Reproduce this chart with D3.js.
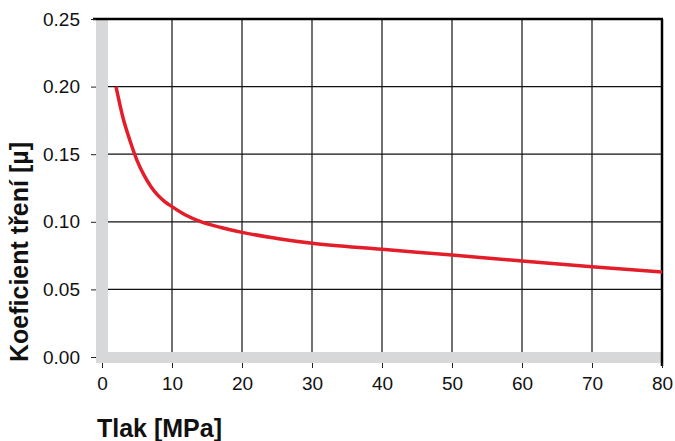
<!DOCTYPE html>
<html>
<head>
<meta charset="utf-8">
<script src="https://cdn.jsdelivr.net/npm/d3@7"></script>
<style>
  body { margin: 0; background: #fff; }
  svg { display: block; font-family: 'Liberation Sans', Arial, Helvetica, sans-serif; }
</style>
</head>
<body>
<div id="chart"></div>
<script>
// pressure [MPa] vs friction coefficient
const pressure = [2, 3, 4, 5, 6, 7, 8, 9, 10, 12, 14, 17, 20, 25, 30, 40, 50, 60, 70, 80]
const friction = [0.200, 0.177, 0.160, 0.1455, 0.1345, 0.126, 0.1195, 0.1148, 0.1112, 0.1048, 0.1003, 0.0958, 0.0922, 0.0877, 0.0841, 0.0797, 0.0754, 0.0710, 0.0668, 0.0628]
const xTicks = [0, 10, 20, 30, 40, 50, 60, 70, 80]
const yTicks = [0, 0.05, 0.10, 0.15, 0.20, 0.25]

const width = 675
const height = 441

const svg = d3
  .select('#chart')
  .append('svg')
  .attr('width', width)
  .attr('height', height)

const x = d3.scaleLinear().domain([0, 80]).range([102, 662])
const y = d3.scaleLinear().domain([0, 0.25]).range([357, 19])

const left = 96
const bottom = 363
const grey = '#d7d8da'

// grid
svg
  .append('g')
  .selectAll('line')
  .data(xTicks.slice(1, -1))
  .join('line')
  .attr('x1', d => x(d))
  .attr('x2', d => x(d))
  .attr('y1', y(0.25))
  .attr('y2', bottom)
  .attr('stroke', '#111')
  .attr('stroke-width', 1.2)

svg
  .append('g')
  .selectAll('line')
  .data(yTicks.slice(1, -1))
  .join('line')
  .attr('x1', left)
  .attr('x2', x(80))
  .attr('y1', d => y(d))
  .attr('y2', d => y(d))
  .attr('stroke', '#111')
  .attr('stroke-width', 1.2)

// grey bands on left and bottom
svg
  .append('rect')
  .attr('x', left)
  .attr('y', y(0.25))
  .attr('width', 12)
  .attr('height', bottom - y(0.25))
  .attr('fill', grey)

svg
  .append('rect')
  .attr('x', left)
  .attr('y', bottom - 11)
  .attr('width', x(80) - left)
  .attr('height', 11)
  .attr('fill', grey)

// top and right frame
svg
  .append('line')
  .attr('x1', 93)
  .attr('x2', x(80) + 1)
  .attr('y1', y(0.25))
  .attr('y2', y(0.25))
  .attr('stroke', '#000')
  .attr('stroke-width', 2.5)

svg
  .append('line')
  .attr('x1', x(80))
  .attr('x2', x(80))
  .attr('y1', y(0.25))
  .attr('y2', bottom + 3)
  .attr('stroke', '#000')
  .attr('stroke-width', 2.5)

// axes
const yAxis = svg
  .append('g')
  .attr('transform', `translate(${left},0)`)
  .call(
    d3
      .axisLeft(y)
      .tickValues(yTicks)
      .tickSize(5)
      .tickPadding(11)
      .tickFormat(d3.format('.2f')),
  )

const xAxis = svg
  .append('g')
  .attr('transform', `translate(0,${bottom})`)
  .call(
    d3
      .axisBottom(x)
      .tickValues(xTicks)
      .tickSize(5)
      .tickPadding(9)
      .tickFormat(d3.format('d')),
  )

for (const ax of [xAxis, yAxis]) {
  ax.select('.domain').remove()
  ax.selectAll('.tick line').attr('stroke', '#222')
  ax
    .selectAll('.tick text')
    .attr('fill', '#111')
    .style('font-family', "'Liberation Sans', Arial, sans-serif")
    .style('font-size', '19px')
}

// curve
const line = d3
  .line()
  .x((d, i) => x(pressure[i]))
  .y(d => y(d))
  .curve(d3.curveMonotoneX)

svg
  .append('path')
  .datum(friction)
  .attr('d', line)
  .attr('fill', 'none')
  .attr('stroke', '#e31e2a')
  .attr('stroke-width', 3.5)
  .attr('stroke-linecap', 'butt')

// axis titles
svg
  .append('text')
  .attr('transform', `translate(28,${252}) rotate(-90)`)
  .attr('text-anchor', 'middle')
  .attr('font-size', '25px')
  .attr('font-weight', 'bold')
  .attr('fill', '#111')
  .text('Koeficient tření [µ]')

svg
  .append('text')
  .attr('x', 97)
  .attr('y', 437)
  .attr('font-size', '25px')
  .attr('font-weight', 'bold')
  .attr('fill', '#111')
  .text('Tlak [MPa]')
</script>
</body>
</html>
